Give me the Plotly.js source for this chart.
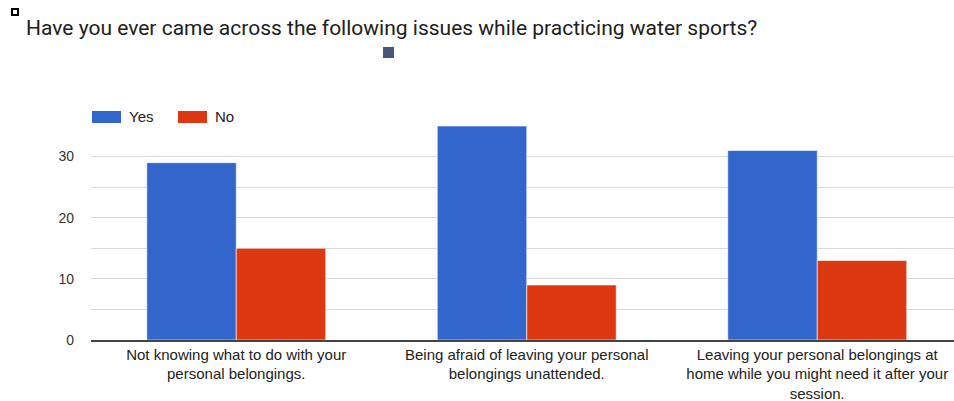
<!DOCTYPE html>
<html>
<head>
<meta charset="utf-8">
<script src="https://cdn.plot.ly/plotly-3.0.1.min.js"></script>
<style>
  html, body { margin: 0; padding: 0; background: #ffffff; }
  #chart { width: 954px; height: 401px; }
</style>
</head>
<body>
<div id="chart"></div>
<script>
// Survey answers per issue
const categories = [
  "Not knowing what to do with your<br>personal belongings.",
  "Being afraid of leaving your personal<br>belongings unattended.",
  "Leaving your personal belongings at<br>home while you might need it after your<br>session."
];
const yesValues = [29, 35, 31];
const noValues = [15, 9, 13];
const seriesNames = ["Yes", "No"];
const yTickValues = [0, 10, 20, 30];

const W = 954, H = 401;
const M = { l: 91, r: 0, t: 126, b: 61 };
const plotW = W - M.l - M.r, plotH = H - M.t - M.b;
// pixel -> paper helpers for decorations
const px = x => (x - M.l) / plotW;
const py = y => (H - M.b - y) / plotH;

const colors = ["#3366cc", "#dc3912"];
const labelFont = { family: "'Liberation Sans', Arial, sans-serif", size: 15, color: "#222222" };
const legendFont = { family: "'Liberation Sans', Arial, sans-serif", size: 15, color: "#222222" };

const traces = [
  { type: "bar", name: seriesNames[0], x: categories, y: yesValues,
    marker: { color: colors[0], line: { color: "#ffffff", width: 0.6 } }, showlegend: false, hoverinfo: "y" },
  { type: "bar", name: seriesNames[1], x: categories, y: noValues,
    marker: { color: colors[1], line: { color: "#ffffff", width: 0.6 } }, showlegend: false, hoverinfo: "y" }
];

const shapes = [
  // legend swatches
  { type: "rect", xref: "paper", yref: "paper", x0: px(92), x1: px(121), y0: py(123), y1: py(111),
    fillcolor: colors[0], line: { width: 0 } },
  { type: "rect", xref: "paper", yref: "paper", x0: px(178), x1: px(207), y0: py(123), y1: py(111),
    fillcolor: colors[1], line: { width: 0 } },
  // small corner marker
  { type: "rect", xref: "paper", yref: "paper", x0: px(12), x1: px(18), y0: py(15), y1: py(9),
    fillcolor: "#ffffff", line: { color: "#000000", width: 2 } },
  // small square under the title
  { type: "rect", xref: "paper", yref: "paper", x0: px(383), x1: px(394), y0: py(58), y1: py(47),
    fillcolor: "#475877", line: { width: 0 } }
];

const annotations = [
  { xref: "paper", yref: "paper", x: px(127), y: py(117), xanchor: "left", yanchor: "middle",
    text: seriesNames[0], showarrow: false, font: legendFont },
  { xref: "paper", yref: "paper", x: px(213), y: py(117), xanchor: "left", yanchor: "middle",
    text: seriesNames[1], showarrow: false, font: legendFont }
];

const layout = {
  width: W, height: H,
  margin: M,
  paper_bgcolor: "#ffffff", plot_bgcolor: "#ffffff",
  title: {
    text: "Have you ever came across the following issues while practicing water sports?",
    x: 26 / W, xanchor: "left", xref: "container",
    y: 1 - 28 / H, yanchor: "middle", yref: "container",
    font: { family: "Roboto, 'Open Sans', sans-serif", size: 21, color: "#202020" }
  },
  barmode: "group", bargap: 0.384, bargroupgap: 0,
  xaxis: {
    type: "category", range: [-0.5, -0.5 + plotW / 290.5], autorange: false,
    showgrid: false, showline: true, linecolor: "#444444", linewidth: 1.5,
    ticks: "", tickfont: labelFont, fixedrange: true
  },
  yaxis: {
    range: [0, 35], autorange: false,
    tickvals: yTickValues, ticktext: yTickValues.map(String),
    showgrid: true, gridcolor: "#d9d9d9", gridwidth: 1.2,
    minor: { dtick: 5, tick0: 0, showgrid: true, gridcolor: "#d9d9d9", gridwidth: 1.2 },
    zeroline: false, showline: false, ticks: "", ticklabelstandoff: 16,
    tickfont: { family: "'Liberation Sans', Arial, sans-serif", size: 14, color: "#333333" },
    fixedrange: true
  },
  shapes: shapes,
  annotations: annotations,
  showlegend: false
};

Plotly.newPlot("chart", traces, layout, { displayModeBar: false, staticPlot: true });
</script>
</body>
</html>
